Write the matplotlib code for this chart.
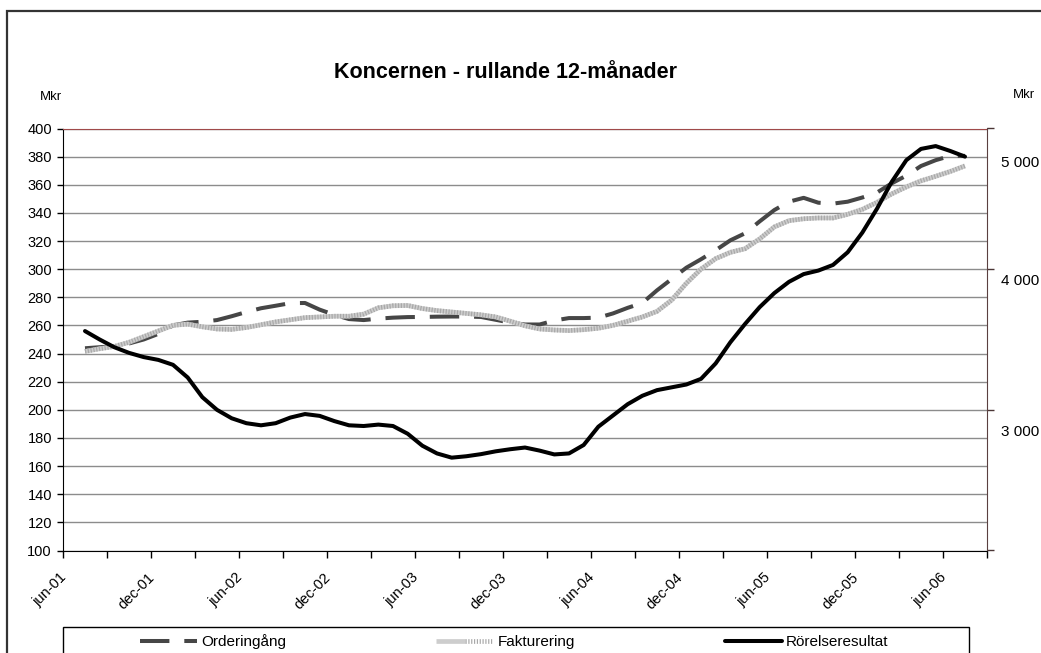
import matplotlib
matplotlib.use('Agg')
import matplotlib.pyplot as plt
import numpy as np
from matplotlib.patches import Rectangle
from matplotlib.ticker import FixedLocator, FixedFormatter, NullFormatter
from matplotlib.transforms import ScaledTranslation
from matplotlib.legend_handler import HandlerTuple

plt.rcParams['font.family'] = ['Liberation Sans', 'DejaVu Sans']

# month index: 0 = jun-01 ... 60 = jun-06
months = np.arange(61)
label_months = np.arange(0, 61, 6)
xlabels = ['jun-01', 'dec-01', 'jun-02', 'dec-02', 'jun-03', 'dec-03',
           'jun-04', 'dec-04', 'jun-05', 'dec-05', 'jun-06']

# Mkr, right axis (log scale)
orderingang = [3510, 3517, 3523, 3542, 3569, 3607, 3666, 3685, 3691, 3703,
               3730, 3760, 3787, 3805, 3824, 3825, 3777, 3740, 3710, 3703,
               3713, 3720, 3724, 3725, 3727, 3728, 3728, 3725, 3705, 3685,
               3672, 3672, 3700, 3717, 3717, 3720, 3750, 3790, 3825, 3918,
               4003, 4090, 4156, 4228, 4308, 4366, 4466, 4563, 4636, 4670,
               4627, 4619, 4636, 4673, 4717, 4800, 4871, 4961, 5016, 5057,
               5057]
fakturering = [3489, 3507, 3522, 3550, 3588, 3627, 3666, 3675, 3656, 3641,
               3638, 3651, 3670, 3690, 3705, 3720, 3725, 3730, 3730, 3745,
               3790, 3805, 3807, 3785, 3770, 3760, 3750, 3740, 3725, 3695,
               3663, 3641, 3634, 3630, 3636, 3646, 3666, 3695, 3725, 3765,
               3846, 3971, 4079, 4161, 4211, 4240, 4320, 4419, 4472, 4488,
               4495, 4495, 4526, 4569, 4630, 4705, 4768, 4823, 4865, 4910,
               4962]
# Mkr, left axis
rorelseresultat = [256, 250, 244.5, 240.5, 237.5, 235.5, 232, 223, 209, 200,
                   194, 190.5, 189, 190.5, 194.5, 197, 195.7, 192, 189, 188.5,
                   189.5, 188.5, 183, 174.5, 169, 166, 167, 168.5, 170.5, 172,
                   173.2, 171, 168.3, 169, 175, 188, 196, 204, 210, 214,
                   216, 218, 222, 233, 248, 261, 273, 283, 291, 296.5,
                   299, 303, 312, 326, 343, 362, 377.5, 385.5, 387.5, 384,
                   380]

left_ticks = np.arange(100, 401, 20)
right_labels = [3000, 4000, 5000]
right_lim = (2391, 5327)

W, H = 1041, 653
fig = plt.figure(figsize=(W / 100, H / 100), dpi=100)
fig.patch.set_facecolor('white')
ax = fig.add_axes([63 / W, 1 - 550.5 / H, (987 - 63) / W, (550.5 - 128.5) / H])
ax2 = ax.twinx()
ax3 = ax.twinx()

# left axis
ax.set_xlim(-1.5, 61.5)
ax.set_ylim(100, 400)
ax.set_yticks(left_ticks)
ax.yaxis.grid(True, color='#8c8c8c', lw=1.0)
ax.set_axisbelow(True)
ax.tick_params(axis='y', direction='out', length=4, width=1, labelsize=10.5, pad=4)
ax.spines['top'].set_color('#a04a4a')
ax.spines['right'].set_visible(False)
ax.spines['left'].set_color('black')
ax.spines['bottom'].set_color('black')

# x axis: tick marks every 3 months, labels every 6 months
ax.xaxis.set_major_locator(FixedLocator(np.arange(-1.5, 61.6, 3)))
ax.xaxis.set_major_formatter(NullFormatter())
ax.xaxis.set_minor_locator(FixedLocator(label_months))
ax.xaxis.set_minor_formatter(FixedFormatter(xlabels))
ax.tick_params(axis='x', which='major', direction='out', length=5, width=1)
ax.tick_params(axis='x', which='minor', length=0, labelsize=10.5, pad=18)
shift = ScaledTranslation(-21 / 100, 0, fig.dpi_scale_trans)
for lab in ax.xaxis.get_minorticklabels():
    lab.set_rotation(45)
    lab.set_ha('right')
    lab.set_va('center')
    lab.set_rotation_mode('anchor')
    lab.set_transform(lab.get_transform() + shift)

# right axis (log)
ax2.set_yscale('log')
ax2.set_ylim(right_lim)
ax2.yaxis.set_major_locator(FixedLocator(np.geomspace(right_lim[0], right_lim[1], 4)))
ax2.yaxis.set_major_formatter(NullFormatter())
ax2.yaxis.set_minor_locator(FixedLocator(right_labels))
ax2.yaxis.set_minor_formatter(FixedFormatter(['3 000', '4 000', '5 000']))
ax2.tick_params(axis='y', which='major', direction='out', length=5, width=1, color='#4a3535')
ax2.tick_params(axis='y', which='minor', length=0, labelsize=11, pad=10)
for s in ['top', 'left', 'bottom']:
    ax2.spines[s].set_visible(False)
ax2.spines['right'].set_color('#5a4040')

l1, = ax2.plot(months, orderingang, color='#464646', lw=2.9, dashes=(7.3, 3.7),
               solid_capstyle='butt', dash_capstyle='butt')
l2a, = ax2.plot(months, fakturering, color='#cdcdcd', lw=3.4, solid_capstyle='butt')
l2b, = ax2.plot(months, fakturering, color='#a8a8a8', lw=3.4, dashes=(0.25, 0.35),
                dash_capstyle='butt')

# overlay for the operating result so it sits on top
ax3.set_ylim(100, 400)
ax3.yaxis.set_visible(False)
for s in ax3.spines.values():
    s.set_visible(False)
l3, = ax3.plot(months, rorelseresultat, color='black', lw=2.9, solid_capstyle='round')

# texts
fig.text(505.6 / W, 1 - 72.5 / H, 'Koncernen - rullande 12-månader',
         ha='center', va='center', fontsize=15.5, fontweight='bold')
fig.text(51 / W, 1 - 97 / H, 'Mkr', ha='center', va='center', fontsize=9.5)
fig.text(1024 / W, 1 - 95 / H, 'Mkr', ha='center', va='center', fontsize=9.5)

# legend
fig.legend([l1, (l2a, l2b), l3], ['Orderingång', 'Fakturering', 'Rörelseresultat'],
           handler_map={tuple: HandlerTuple(ndivide=None)},
           loc='center left', bbox_to_anchor=(140 / W, 1 - 641.7 / H), ncol=3,
           frameon=False, fontsize=11, handlelength=3.73, handletextpad=0.26,
           columnspacing=9.85, borderpad=0, borderaxespad=0)
fig.add_artist(Rectangle((63 / W, -0.05), (969 - 63) / W, 1 - 627 / H + 0.05,
                         transform=fig.transFigure, fill=False, ec='black', lw=1))

# outer chart border
fig.add_artist(Rectangle((7 / W, -0.05), 1.1, 1 - 11 / H + 0.05,
                         transform=fig.transFigure, fill=False, ec='#333333', lw=1.6))

fig.savefig('out.png', dpi=100)
